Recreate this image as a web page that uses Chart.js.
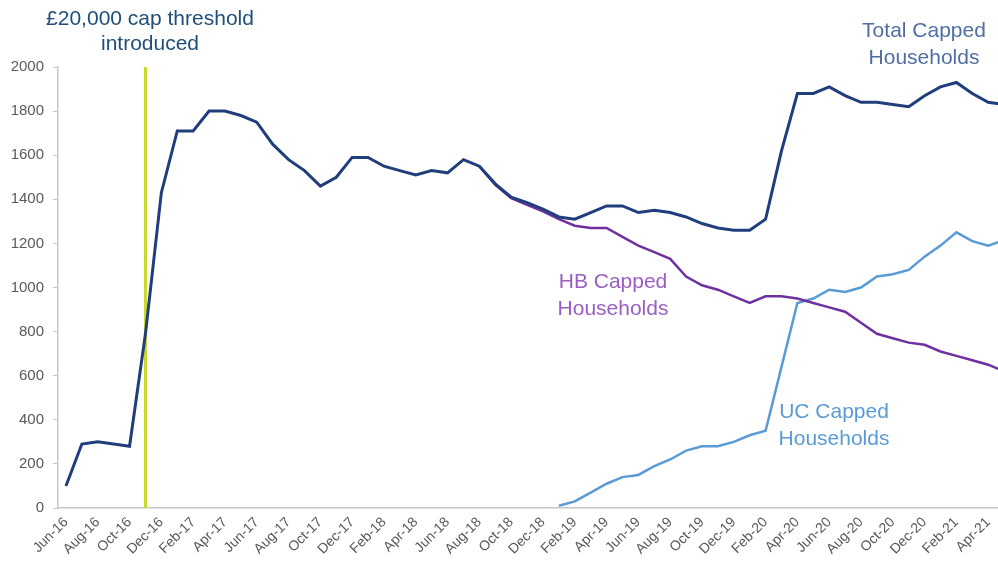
<!DOCTYPE html>
<html>
<head>
<meta charset="utf-8">
<script src="https://cdn.jsdelivr.net/npm/chart.js@4/dist/chart.umd.min.js"></script>
<style>
  html, body { margin: 0; padding: 0; background: #ffffff; overflow: hidden; }
  #wrap { position: relative; width: 1022px; height: 567px; }
</style>
</head>
<body>
<div id="wrap"><canvas id="c"></canvas></div>
<script>
const months = ["Jun-16","Jul-16","Aug-16","Sep-16","Oct-16","Nov-16","Dec-16",
  "Jan-17","Feb-17","Mar-17","Apr-17","May-17","Jun-17","Jul-17","Aug-17","Sep-17","Oct-17","Nov-17","Dec-17",
  "Jan-18","Feb-18","Mar-18","Apr-18","May-18","Jun-18","Jul-18","Aug-18","Sep-18","Oct-18","Nov-18","Dec-18",
  "Jan-19","Feb-19","Mar-19","Apr-19","May-19","Jun-19","Jul-19","Aug-19","Sep-19","Oct-19","Nov-19","Dec-19",
  "Jan-20","Feb-20","Mar-20","Apr-20","May-20","Jun-20","Jul-20","Aug-20","Sep-20","Oct-20","Nov-20","Dec-20",
  "Jan-21","Feb-21","Mar-21","Apr-21","May-21"];

const totalCapped = [100,290,300,290,280,790,1430,
  1710,1710,1800,1800,1780,1750,1650,1580,1530,1460,1500,1590,
  1590,1550,1530,1510,1530,1520,1580,1550,1470,1410,1385,1355,
  1320,1310,1340,1370,1370,1340,1350,1340,1320,1290,1270,1260,
  1260,1310,1620,1880,1880,1910,1870,1840,1840,1830,1820,1870,
  1910,1930,1880,1840,1830];

const hbCapped = [null,null,null,null,null,null,null,
  null,null,null,null,null,null,null,null,null,null,null,null,
  null,null,null,null,null,null,null,1550,1465,1405,1375,1345,
  1310,1280,1270,1270,1230,1190,1160,1130,1050,1010,990,960,
  930,960,960,950,930,910,890,840,790,770,750,740,
  710,690,670,650,620];

const ucCapped = [null,null,null,null,null,null,null,
  null,null,null,null,null,null,null,null,null,null,null,null,
  null,null,null,null,null,null,null,null,null,null,null,null,
  10,30,70,110,140,150,190,220,260,280,280,300,
  330,350,640,930,950,990,980,1000,1050,1060,1080,1140,
  1190,1250,1210,1190,1215];

const yTicks = [0,200,400,600,800,1000,1200,1400,1600,1800,2000];
const thresholdMonth = "Nov-16";

const FONT = "'Liberation Sans', Arial, sans-serif";

const thresholdLine = {
  id: 'thresholdLine',
  beforeDatasetsDraw(chart) {
    const x = chart.scales.x.getPixelForValue(months.indexOf(thresholdMonth));
    const y = chart.scales.y;
    const ctx = chart.ctx;
    ctx.save();
    ctx.strokeStyle = '#C9D92A';
    ctx.lineWidth = 3;
    ctx.beginPath();
    ctx.moveTo(x, y.getPixelForValue(2000));
    ctx.lineTo(x, y.getPixelForValue(0));
    ctx.stroke();
    ctx.restore();
  }
};

const annotations = {
  id: 'annotations',
  afterDraw(chart) {
    const ctx = chart.ctx;
    ctx.save();
    ctx.font = '21px ' + FONT;
    ctx.textAlign = 'center';
    ctx.textBaseline = 'alphabetic';
    const items = [
      { lines: ['£20,000 cap threshold', 'introduced'], x: 150, y: 25, color: '#1F4E79', gap: 25 },
      { lines: ['Total Capped', 'Households'], x: 924, y: 37, color: '#4F6EA3', gap: 27 },
      { lines: ['HB Capped', 'Households'], x: 613, y: 288, color: '#9A5EC4', gap: 27 },
      { lines: ['UC Capped', 'Households'], x: 834, y: 418, color: '#5B9BD5', gap: 27 }
    ];
    items.forEach(it => {
      ctx.fillStyle = it.color;
      it.lines.forEach((t, i) => ctx.fillText(t, it.x, it.y + i * it.gap));
    });
    ctx.restore();
  }
};

new Chart(document.getElementById('c'), {
  type: 'line',
  data: {
    labels: months,
    datasets: [
      { label: 'Total Capped Households', data: totalCapped, borderColor: '#203E7C', borderWidth: 3, pointRadius: 0, tension: 0, fill: false },
      { label: 'HB Capped Households', data: hbCapped, borderColor: '#7030A0', borderWidth: 2.5, pointRadius: 0, tension: 0, fill: false },
      { label: 'UC Capped Households', data: ucCapped, borderColor: '#5B9BD5', borderWidth: 2.5, pointRadius: 0, tension: 0, fill: false }
    ]
  },
  options: {
    responsive: true,
    maintainAspectRatio: false,
    animation: false,
    events: [],
    layout: { padding: { top: 67, right: 2, left: 0, bottom: 0 } },
    plugins: { legend: { display: false }, tooltip: { enabled: false }, title: { display: false } },
    scales: {
      x: {
        offset: true,
        grid: { display: false, drawTicks: false },
        border: { display: true, color: '#C8C8C8', width: 1.5 },
        ticks: {
          autoSkip: false,
          maxRotation: 45,
          minRotation: 45,
          padding: 6,
          color: '#595959',
          font: { family: FONT, size: 14 },
          callback: function(v, i) { return i % 2 === 0 ? months[i] : ''; }
        },
        afterFit(scale) { scale.height = 59; }
      },
      y: {
        min: 0,
        max: 2000,
        afterBuildTicks(scale) { scale.ticks = yTicks.map(v => ({ value: v })); },
        grid: { drawOnChartArea: false, drawTicks: true, tickLength: 5, color: '#C8C8C8' },
        border: { display: true, color: '#C8C8C8', width: 1.5 },
        ticks: {
          padding: 9,
          color: '#595959',
          font: { family: FONT, size: 15 },
          callback: function(v) { return String(v); }
        },
        afterFit(scale) { scale.width = 58; }
      }
    }
  },
  plugins: [thresholdLine, annotations]
});
</script>
</body>
</html>
